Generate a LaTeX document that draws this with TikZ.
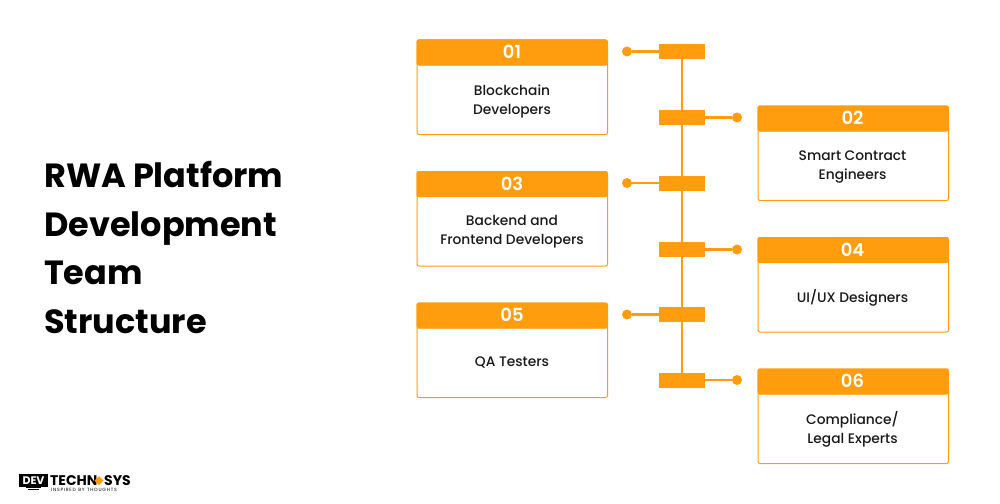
\documentclass[tikz,border=0pt]{standalone}
\usepackage{fontspec}
\setmainfont{Poppins}
\newfontfamily\medfont{Poppins Medium}
\newfontfamily\semifont{Poppins SemiBold}
\definecolor{org}{HTML}{FF9D0E}
\tikzset{x=1pt,y=-1pt,
 cardbody/.style={draw=org,line width=1pt,fill=white,rounded corners=2pt,minimum width=190.5pt,minimum height=94.5pt,inner sep=0pt,anchor=north west},
 cardhead/.style={fill=org,draw=org,line width=0.6pt,rounded corners=2pt,minimum width=190.5pt,minimum height=25.5pt,inner sep=0pt,anchor=north west},
 cardnum/.style={text=white,inner sep=0pt,font=\semifont\fontsize{18}{20}\selectfont},
 cardtext/.style={align=center,font=\medfont\fontsize{13.8}{19}\selectfont,text=black!90,inner sep=0pt},
 bar/.style={fill=org,minimum width=46pt,minimum height=15pt,inner sep=0pt},
 dot/.style={circle,fill=org,minimum size=10pt,inner sep=0pt},
 link/.style={draw=org,line width=2.8pt},
 title/.style={anchor=base west,font=\fontsize{33.5}{40}\bfseries\selectfont,text=black,inner sep=0pt},
 logotext/.style={inner sep=0pt,anchor=base west,text=black,font=\fontsize{14}{14}\bfseries\selectfont}}
\begin{document}
\begin{tikzpicture}
\useasboundingbox (0,0) rectangle (1000,503);
\fill[white] (0,0) rectangle (1000,503);
\node[title] (t1) at (44,187) {RWA Platform};
\node[title] (t2) at (44,236) {Development};
\node[title] (t3) at (44,284) {Team};
\node[title] (t4) at (44,333) {Structure};
% bars and dots
\node[bar] (b1) at (682,51.5) {};
\node[bar] (b2) at (682,117.5) {};
\node[bar] (b3) at (682,183) {};
\node[bar] (b4) at (682,249.5) {};
\node[bar] (b5) at (682,314.5) {};
\node[bar] (b6) at (682,380) {};
\node[dot] (d1) at (627,51.5) {};
\node[dot] (d2) at (737,117.5) {};
\node[dot] (d3) at (627,183) {};
\node[dot] (d4) at (737,249.5) {};
\node[dot] (d5) at (627,314.5) {};
\node[dot] (d6) at (737,380) {};
\draw[link] (b1.center) -- (b2.center);
\draw[link] (b2.center) -- (b3.center);
\draw[link] (b3.center) -- (b4.center);
\draw[link] (b4.center) -- (b5.center);
\draw[link] (b5.center) -- (b6.center);
\draw[link] (d1) -- (b1);
\draw[link] (d2) -- (b2);
\draw[link] (d3) -- (b3);
\draw[link] (d4) -- (b4);
\draw[link] (d5) -- (b5);
\draw[link] (d6) -- (b6);
% cards
\node[cardbody] (c1) at (416.5,39.5) {};
\node[cardhead] (h1) at (416.5,39.5) {};
\node[cardnum] (n1) at (512,51.5) {01};
\node[cardtext] (x1) at (512,101) {Blockchain\\Developers};
\node[cardbody] (c2) at (757.5,105.5) {};
\node[cardhead] (h2) at (757.5,105.5) {};
\node[cardnum] (n2) at (852.5,117.5) {02};
\node[cardtext] (x2) at (852.5,167.5) {Smart Contract\\Engineers};
\node[cardbody] (c3) at (416.5,171) {};
\node[cardhead] (h3) at (416.5,171) {};
\node[cardnum] (n3) at (512,183.5) {03};
\node[cardtext] (x3) at (512,232) {Backend and\\Frontend Developers};
\node[cardbody] (c4) at (757.5,237) {};
\node[cardhead] (h4) at (757.5,237) {};
\node[cardnum] (n4) at (852.5,249.5) {04};
\node[cardtext] (x4) at (852.5,298) {UI/UX Designers};
\node[cardbody] (c5) at (416.5,302.5) {};
\node[cardhead] (h5) at (416.5,302.5) {};
\node[cardnum] (n5) at (512,314.5) {05};
\node[cardtext] (x5) at (512,363) {QA Testers};
\node[cardbody] (c6) at (757.5,368.5) {};
\node[cardhead] (h6) at (757.5,368.5) {};
\node[cardnum] (n6) at (852.5,380.5) {06};
\node[cardtext] (x6) at (852.5,429) {Compliance/\\Legal Experts};
% logo
\fill[black] (19,474) rectangle (48,486.5);
\fill[black] (26,486.5) rectangle (41,488);
\fill[black] (28,489) rectangle (39,490);
\node[inner sep=0pt,anchor=base,text=white,font=\fontsize{11}{11}\bfseries\selectfont] (lg1) at (33.5,484.5) {DEV};
\node[logotext] (lg2) at (50,485) {TECHN};
\fill[org] (99,476) -- (103.5,480.5) -- (99,485) -- (94.5,480.5) -- cycle;
\node[logotext] (lg3) at (104,485) {SYS};
\node[inner sep=0pt,anchor=base west,text=black,font=\fontsize{4.6}{5}\selectfont] (lg4) at (51,491) {I\,N\,S\,P\,I\,R\,E\,D\ \ B\,Y\ \ T\,H\,O\,U\,G\,H\,T\,S};
\end{tikzpicture}
\end{document}
